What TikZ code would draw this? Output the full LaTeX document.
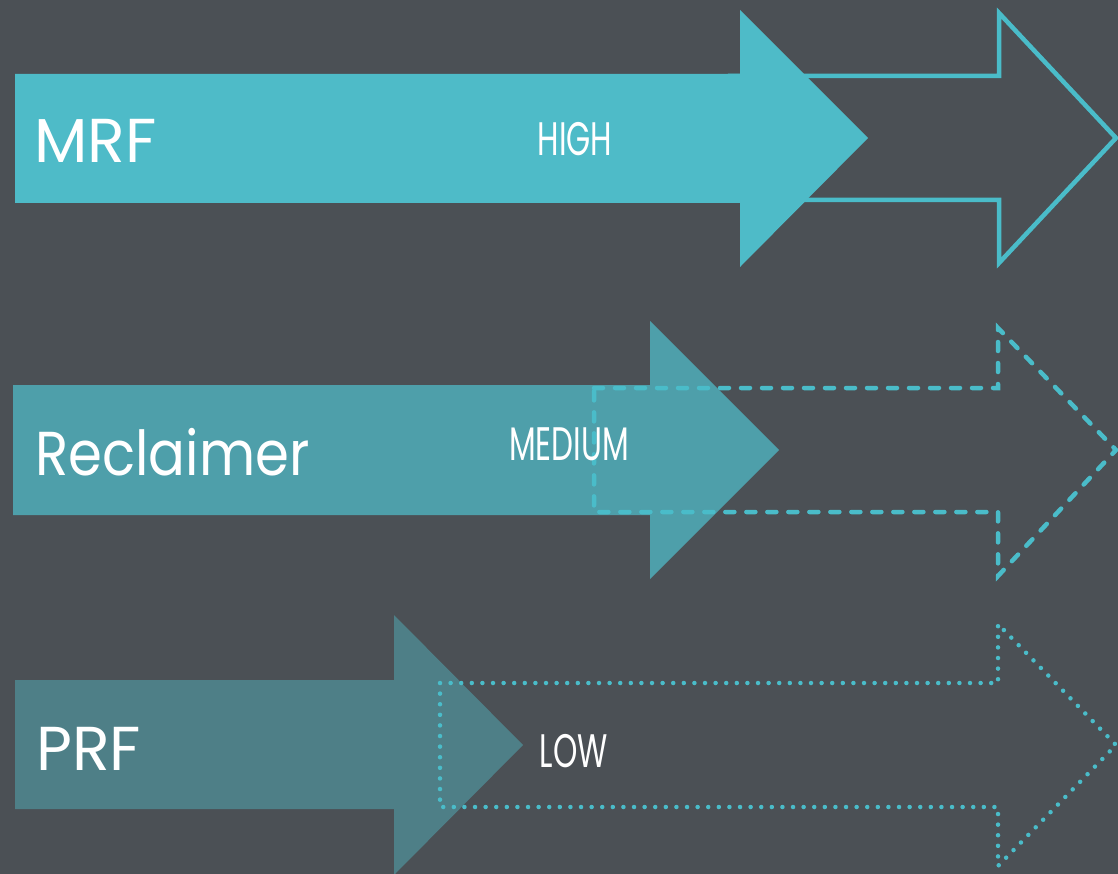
\documentclass[tikz,border=0pt]{standalone}
\usepackage{fontspec}
\setmainfont{Poppins}
\newfontfamily\condfont[FakeStretch=0.66]{Poppins}
\newfontfamily\narrowfont[FakeStretch=0.88]{Poppins}
\definecolor{bgGray}{HTML}{4B5055}
\definecolor{tealHigh}{HTML}{4EBBC8}
\definecolor{tealMid}{HTML}{4E9FAA}
\definecolor{tealLow}{HTML}{4E7F87}
\definecolor{lineTeal}{HTML}{4ABCC9}

\begin{document}
\begin{tikzpicture}[
  x=1pt,y=-1pt,
  solidArrow/.style={fill=#1},
  ghostArrow/.style={draw=lineTeal,line width=4.5pt,line join=miter},
  siteLabel/.style={anchor=base west,inner sep=0pt,text=white,font=\fontsize{62}{62}\selectfont},
  levelLabel/.style={anchor=base,inner sep=0pt,text=white,font=\condfont\fontsize{47}{47}\selectfont}
]
  \fill[bgGray] (0,0) rectangle (1118,874);
  \useasboundingbox (0,0) rectangle (1118,874);

  % high
  \draw[ghostArrow] (730,76) -- (999,76) -- (999,13) -- (1116,138) -- (999,263) -- (999,200) -- (730,200) -- cycle;
  \fill[solidArrow=tealHigh] (15,74) -- (740,74) -- (740,10) -- (868,138) -- (740,267) -- (740,203) -- (15,203) -- cycle;
  \node[siteLabel] (mrf) at (34,163) {MRF};
  \node[levelLabel] (high) at (575,156) {HIGH};

  % medium
  \fill[solidArrow=tealMid] (13,385) -- (650,385) -- (650,321) -- (779,450) -- (650,579) -- (650,515) -- (13,515) -- cycle;
  \draw[ghostArrow,line width=4.5pt,line cap=round,dash pattern=on 9pt off 12pt] (594,388) -- (998,388) -- (998,328) -- (1116,450) -- (998,576) -- (998,512) -- (594,512) -- cycle;
  \node[siteLabel,font=\narrowfont\fontsize{62}{62}\selectfont] (reclaimer) at (35,475) {Reclaimer};
  \node[levelLabel] (medium) at (569,460) {MEDIUM};

  % low
  \fill[solidArrow=tealLow] (15,680) -- (394,680) -- (394,615) -- (523,745) -- (394,875) -- (394,809) -- (15,809) -- cycle;
  \draw[ghostArrow,line width=4.5pt,line cap=round,dash pattern=on 0pt off 10.6pt] (440,683) -- (998,683) -- (998,624) -- (1116,745) -- (998,866) -- (998,807) -- (440,807) -- cycle;
  \node[siteLabel] (prf) at (36,770) {PRF};
  \node[levelLabel] (low) at (574,767) {LOW};
\end{tikzpicture}
\end{document}
